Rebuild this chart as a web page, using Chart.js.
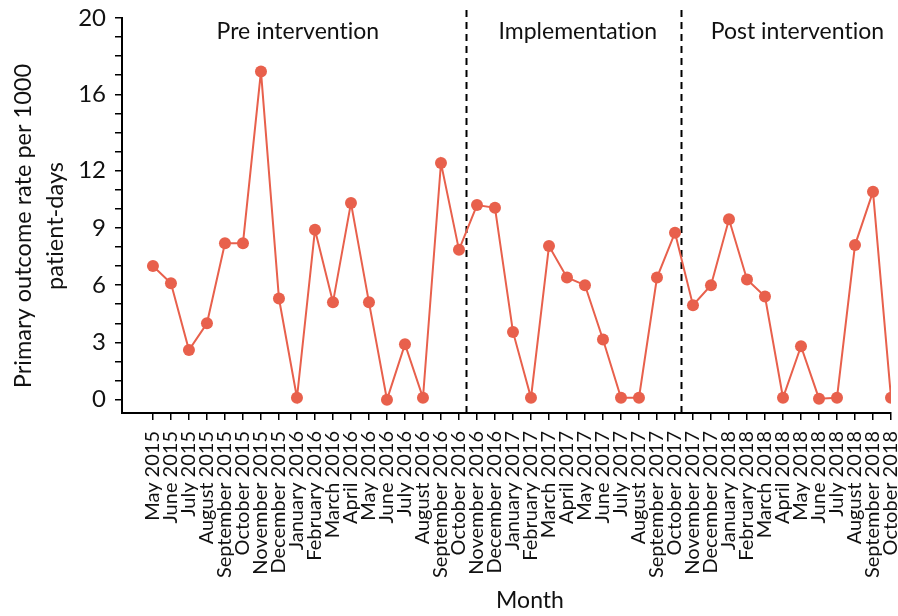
<!DOCTYPE html>
<html>
<head>
<meta charset="utf-8">
<script src="https://cdn.jsdelivr.net/npm/chart.js@4.4.1/dist/chart.umd.min.js"></script>
<style>
  html, body { margin: 0; padding: 0; background: #ffffff; }
  #wrap { width: 898px; height: 616px; position: relative; }
</style>
</head>
<body>
<div id="wrap"><canvas id="chart" width="898" height="616"></canvas></div>
<script>
// Monthly observation periods
const months = [
  'May 2015','June 2015','July 2015','August 2015','September 2015','October 2015',
  'November 2015','December 2015','January 2016','February 2016','March 2016','April 2016',
  'May 2016','June 2016','July 2016','August 2016','September 2016','October 2016',
  'November 2016','December 2016','January 2017','February 2017','March 2017','April 2017',
  'May 2017','June 2017','July 2017','August 2017','September 2017','October 2017',
  'November 2017','December 2017','January 2018','February 2018','March 2018','April 2018',
  'May 2018','June 2018','July 2018','August 2018','September 2018','October 2018'
];

// Primary outcome rate per 1000 patient-days
const rates = [
  7.0, 6.1, 2.6, 4.0, 8.2, 8.2,
  17.2, 5.3, 0.1, 8.9, 5.1, 10.3,
  5.1, 0.0, 2.9, 0.1, 12.4, 7.85,
  10.2, 10.05, 3.55, 0.1, 8.05, 6.4,
  6.0, 3.15, 0.1, 0.1, 6.4, 8.75,
  4.95, 6.0, 9.45, 6.3, 5.4, 0.1,
  2.8, 0.05, 0.1, 8.1, 10.9, 0.1
];

// Labelled y-axis values (minor ticks at every unit)
const yTickLabels = [0, 3, 6, 9, 12, 16, 20];

// Study phases and the month positions where the phases change
const phaseNames = ['Pre intervention', 'Implementation', 'Post intervention'];
const phaseLabelAt = [8.05, 23.6, 35.8];
const phaseBreaks = [17.38, 29.36];

const FONT = 'Lato, "Open Sans", sans-serif';
const LINE_COLOR = '#E8604C';

const points = rates.map((v, i) => ({ x: i, y: v }));

const phasePlugin = {
  id: 'phases',
  beforeDatasetsDraw(chart) {
    const { ctx, chartArea, scales } = chart;
    ctx.save();
    ctx.strokeStyle = '#000';
    ctx.lineWidth = 2;
    ctx.setLineDash([7, 5]);
    phaseBreaks.forEach(b => {
      const px = Math.round(scales.x.getPixelForValue(b)) + 0.5;
      ctx.beginPath();
      ctx.moveTo(px, 10);
      ctx.lineTo(px, chartArea.bottom);
      ctx.stroke();
    });
    ctx.restore();
  },
  afterDraw(chart) {
    const { ctx, scales } = chart;
    ctx.save();
    ctx.fillStyle = '#111';
    ctx.letterSpacing = '0.01px';
    ctx.font = '23px ' + FONT;
    ctx.textAlign = 'center';
    ctx.textBaseline = 'middle';
    phaseNames.forEach((name, i) => {
      ctx.fillText(name, scales.x.getPixelForValue(phaseLabelAt[i]), 32);
    });
    // x-axis title
    ctx.fillText('Month', 530, 601);
    // y-axis title (two lines, rotated)
    ctx.translate(38, 226);
    ctx.rotate(-Math.PI / 2);
    ctx.font = '23.5px ' + FONT;
    ctx.fillText('Primary outcome rate per 1000', 0, -15);
    ctx.fillText('patient-days', 0, 17);
    ctx.restore();
  }
};

new Chart(document.getElementById('chart'), {
  type: 'line',
  data: {
    datasets: [{
      data: points,
      borderColor: LINE_COLOR,
      backgroundColor: LINE_COLOR,
      borderWidth: 2,
      pointRadius: 6,
      pointHoverRadius: 6,
      pointBorderWidth: 0,
      tension: 0
    }]
  },
  options: {
    responsive: false,
    animation: false,
    devicePixelRatio: 1,
    layout: { padding: { left: 0, right: 7, top: 18, bottom: 0 } },
    plugins: { legend: { display: false }, tooltip: { enabled: false } },
    scales: {
      x: {
        type: 'linear',
        min: -1.72,
        max: 41,
        afterBuildTicks(scale) {
          scale.ticks = months.map((_, i) => ({ value: i }));
        },
        afterFit(scale) {
          scale.height = 616 - 413;
          scale.paddingLeft = 0;
          scale.paddingRight = 0;
        },
        ticks: {
          autoSkip: false,
          minRotation: 90,
          maxRotation: 90,
          padding: 11,
          color: '#111',
          font: { family: FONT, size: 20 },
          callback: (v) => months[v] ?? ''
        },
        grid: { drawOnChartArea: false, drawTicks: true, tickLength: 7, color: '#000', lineWidth: 1.5 },
        border: { display: true, color: '#000', width: 2 }
      },
      y: {
        type: 'linear',
        min: -0.7,
        max: 20,
        afterBuildTicks(scale) {
          const t = [];
          for (let v = 0; v <= 20; v++) t.push({ value: v });
          scale.ticks = t;
        },
        afterFit(scale) {
          scale.width = 122;
          scale.paddingTop = 0;
          scale.paddingBottom = 0;
        },
        ticks: {
          autoSkip: false,
          padding: 9,
          color: '#111',
          font: { family: FONT, size: 24 },
          callback: (v) => yTickLabels.includes(v) ? String(v) : ''
        },
        grid: { drawOnChartArea: false, drawTicks: true, tickLength: 7, color: '#000', lineWidth: 1.5 },
        border: { display: true, color: '#000', width: 2 }
      }
    }
  },
  plugins: [phasePlugin]
});
</script>
</body>
</html>
